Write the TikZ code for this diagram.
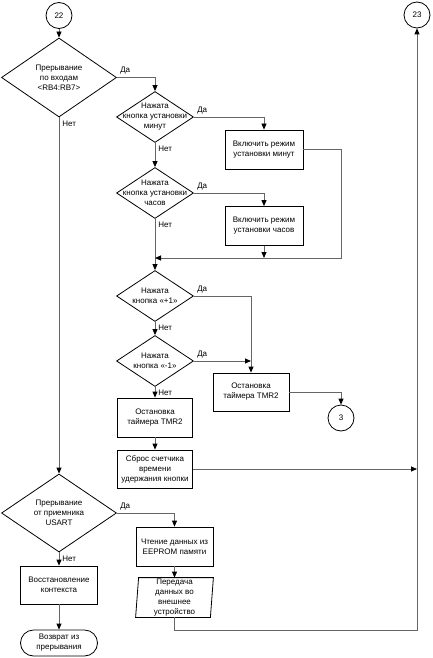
\documentclass[tikz,border=0pt]{standalone}
\usepackage{fontspec}
\setmainfont{Liberation Sans}
\usetikzlibrary{shapes.geometric,arrows.meta}
\begin{document}
\begin{tikzpicture}[x=1pt, y=-1pt, line width=0.8pt,
  every node/.style={font=\fontsize{8}{10}\selectfont, align=center, inner sep=0pt},
  dec/.style={diamond, draw, minimum width=77pt, minimum height=51pt},
  bigdec/.style={dec, minimum width=115pt, minimum height=79pt},
  proc/.style={rectangle, draw, minimum width=77pt, minimum height=39pt},
  conn/.style={circle, draw, minimum size=26pt},
  term/.style={rectangle, rounded corners=13pt, draw, minimum width=77pt, minimum height=26pt},
  arr/.style={draw=black!60, -{Triangle[length=6pt,width=5pt,color=black]}},
  yes/.style={above right, inner sep=3pt},
  no/.style={below right, inner sep=3pt}]
\useasboundingbox (0,0) rectangle (433,658);

% connectors
\node[conn] (c22) at (59,15.5) {22};
\node[conn] (c23) at (417,15) {23};
\node[conn] (c3) at (341,418) {3};

% decisions
\node[bigdec] (d1) at (59,77.5) {};
\node (d1t) at (d1) {Прерывание\\по входам\\<RB4:RB7>};
\node[bigdec, minimum height=78pt] (d6) at (59,513) {};
\node (d6t) at (d6) {Прерывание\\от приемника\\USART};
\foreach \n/\y/\t in {d2/117/{Нажата\\кнопка установки\\минут},
                      d3/193/{Нажата\\кнопка установки\\часов},
                      d4/296/{Нажата\\кнопка «+1»},
                      d5/361/{Нажата\\кнопка «-1»}} {
    \node[dec] (\n) at (155,\y) {};
    \node (\n t) at (\n) {\t};
}

% processes
\node[proc, minimum width=78pt] (b1) at (264,149.5) {Включить режим\\установки минут};
\node[proc, minimum width=78pt] (b2) at (264,226) {Включить режим\\установки часов};
\node[proc, minimum width=76pt, minimum height=38pt] (b3) at (251,392) {Остановка\\таймера TMR2};
\node[proc, minimum width=75pt] (b4) at (155,417.5) {Остановка\\таймера TMR2};
\node[proc, minimum width=75pt, minimum height=38pt] (b5) at (155,469) {Сброс счетчика\\времени\\удержания кнопки};
\node[proc] (b6) at (174.5,546.5) {Чтение данных из\\EEPROM памяти};
\node[proc, minimum height=38pt] (b7) at (59,585) {Восстановление\\контекста};
\node[term] (ret) at (59,643) {Возврат из\\прерывания};

% input/output
\node[minimum width=74pt, minimum height=39pt] (io) at (174.5,597.5) {Передача\\данных во\\внешнее\\устройство};
\draw ([xshift=1.5pt]io.north west) -- ([xshift=1.5pt]io.north east)
   -- ([xshift=-1.5pt]io.south east) -- ([xshift=-1.5pt]io.south west) -- cycle;

\coordinate (j1) at (155,258);
\coordinate (r1) at (341,258);
\coordinate (r2) at (417,630);

% lines
\draw[arr] (c22) -- (d1);
\draw[arr] (d1.east) node[yes] {Да} -| (d2.north);
\draw[arr] (d1.south) node[no] {Нет} -- (d6.north);
\draw[arr] (d2.east) node[yes] {Да} -| (b1.north);
\draw[arr] (d2.south) node[no] {Нет} -- (d3.north);
\draw[arr] (d3.east) node[yes] {Да} -| (b2.north);
\draw[arr] (d3.south) node[no] {Нет} -- (d4.north);
\draw[arr] (b1.east) -| (r1) -- (j1);
\draw[arr] (b2.south) -- (b2.south |- j1);
\draw[arr] (d4.east) node[yes] {Да} -| (b3.north);
\draw[arr] (d4.south) node[no] {Нет} -- (d5.north);
\draw[arr] (d5.east) node[yes] {Да} -- (d5.east -| b3.north);
\draw[arr] (d5.south) node[no] {Нет} -- (b4.north);
\draw[arr] (b3.east) -| (c3.north);
\draw[arr] (b4.south) -- (b5.north);
\draw[arr] (b5.east) -- (b5.east -| c23.south);
\draw[arr] (d6.east) node[yes] {Да} -| (b6.north);
\draw[arr] (d6.south) node[no] {Нет} -- (b7.north);
\draw[arr] (b6.south) -- (io.north);
\draw[arr] (io.south) |- (r2) -- (c23.south);
\draw[arr] (b7.south) -- (ret.north);
\end{tikzpicture}
\end{document}
